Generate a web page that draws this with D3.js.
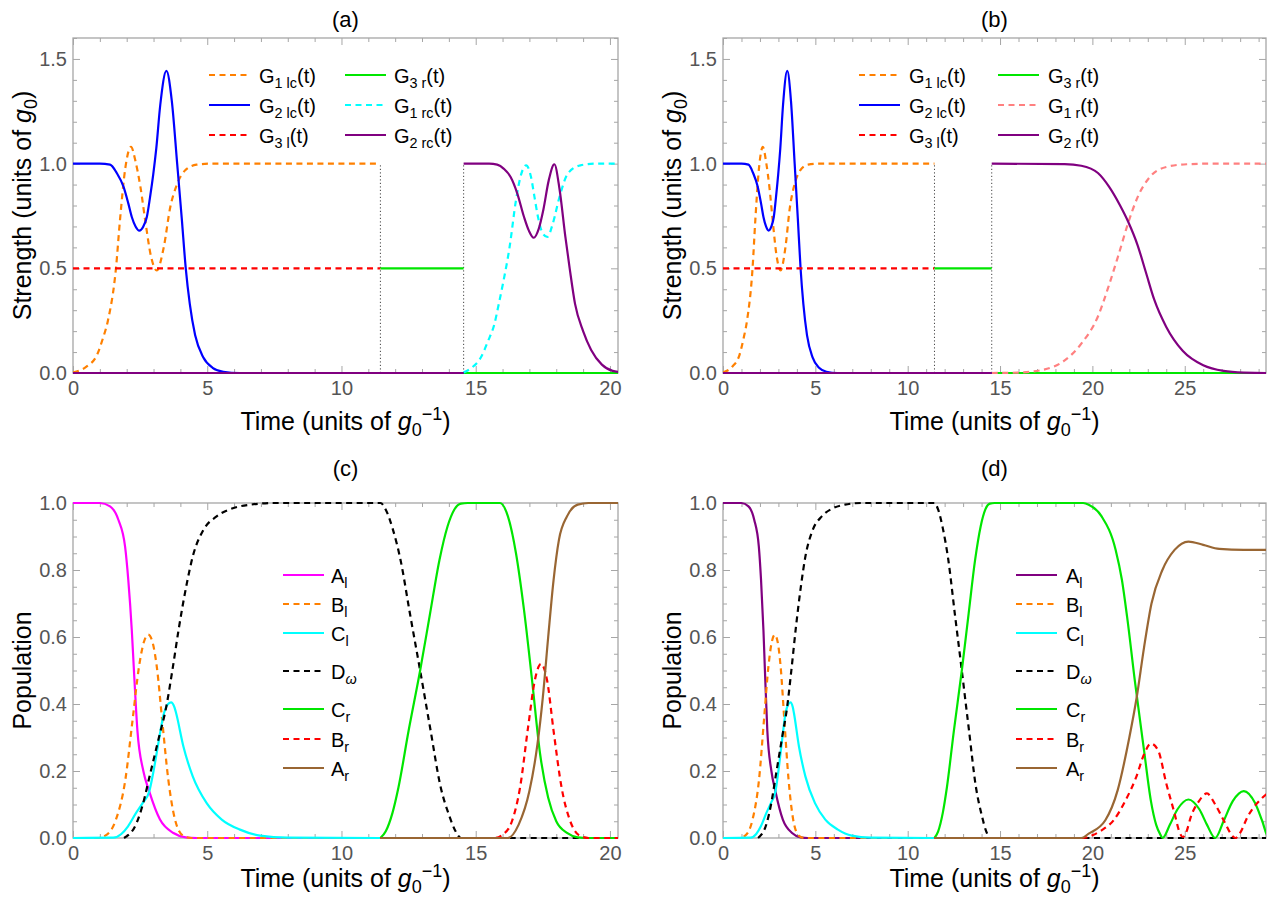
<!DOCTYPE html>
<html>
<head>
<meta charset="utf-8">
<script src="https://cdn.jsdelivr.net/npm/d3@7"></script>
<style>
  body { margin: 0; background: #fff; }
  text { font-family: "Liberation Sans", Arial, sans-serif; }
</style>
</head>
<body>
<div id="chart"></div>
<script>
// ---- data: [time, value] ----
var xTicksShort = [0, 5, 10, 15, 20];
var xTicksLong = [0, 5, 10, 15, 20, 25];
var yTicksStrength = [0, 0.5, 1.0, 1.5];
var yLabelsStrength = ["0.0", "0.5", "1.0", "1.5"];
var yTicksPop = [0, 0.2, 0.4, 0.6, 0.8, 1.0];
var yLabelsPop = ["0.0", "0.2", "0.4", "0.6", "0.8", "1.0"];
var switchTimes = [11.45, 14.55];

// strengths (a), (b)
var g1lc = [[0,0.003],[0.5,0.03],[0.9,0.088],[1.1,0.16],[1.3,0.25],[1.6,0.5],[1.75,0.73],[1.95,0.98],[2.16,1.08],[2.33,1.01],[2.51,0.89],[2.7,0.72],[2.9,0.56],[3.12,0.49],[3.38,0.6],[3.62,0.79],[3.87,0.9],[4.18,0.968],[4.6,0.995],[5.2,1],[11.45,1]];
var g2lc = [[0,1],[1.0,1],[1.38,0.995],[1.63,0.955],[1.88,0.89],[2.06,0.81],[2.19,0.745],[2.33,0.70],[2.47,0.68],[2.62,0.70],[2.75,0.745],[2.87,0.84],[2.99,0.95],[3.1,1.07],[3.25,1.28],[3.48,1.443],[3.68,1.3],[3.88,1.0],[4.05,0.74],[4.2,0.5],[4.35,0.33],[4.55,0.18],[4.85,0.075],[5.2,0.025],[5.6,0.006],[6.2,0],[30,0]];
var g3l = [[0,0.5],[11.45,0.5]];
var g3r = [[11.45,0.5],[14.55,0.5]];
var g3rOff = [[14.55,0],[30,0]];
var g1rc = [[14.55,0.003],[14.85,0.025],[15.2,0.076],[15.45,0.15],[15.7,0.236],[15.86,0.33],[16.02,0.43],[16.26,0.6],[16.5,0.825],[16.7,0.952],[16.88,0.992],[17.06,0.936],[17.19,0.84],[17.32,0.745],[17.5,0.666],[17.67,0.65],[17.87,0.713],[18.12,0.84],[18.43,0.952],[18.9,0.992],[19.5,1.0],[30,1.0]];
var g2rcOff = [[0,0],[14.55,0]];
var g2rc = [[14.55,1],[15.5,1],[15.8,0.995],[16.05,0.975],[16.3,0.936],[16.55,0.857],[16.8,0.745],[16.98,0.68],[17.16,0.646],[17.35,0.69],[17.52,0.78],[17.72,0.92],[17.93,0.997],[18.12,0.88],[18.34,0.65],[18.5,0.5],[18.7,0.33],[19.0,0.2],[19.3,0.11],[19.7,0.04],[20.1,0.01],[20.5,0.003]];
var g1r = [[14.55,0],[16.0,0.002],[17.2,0.013],[18.5,0.06],[19.4,0.14],[20.3,0.27],[20.9,0.42],[21.4,0.56],[21.95,0.72],[22.45,0.84],[23.1,0.935],[24.0,0.984],[25.1,0.997],[26.5,1],[30,1]];
var g2r = [[14.55,1],[18.5,0.998],[19.4,0.99],[20.3,0.955],[20.9,0.89],[21.5,0.8],[21.95,0.72],[22.45,0.61],[22.9,0.48],[23.35,0.35],[24.0,0.22],[24.9,0.105],[26.0,0.037],[27.1,0.01],[28.2,0.002],[29.5,0],[30,0]];

// populations (c), (d)
var aL = [[0,1],[1.0,1],[1.38,0.99],[1.69,0.95],[1.94,0.87],[2.06,0.77],[2.19,0.62],[2.27,0.5],[2.4,0.32],[2.62,0.2],[2.84,0.139],[3.24,0.055],[3.74,0.015],[4.2,0.002],[4.6,0],[11.45,0]];
var bL = [[0,0],[0.9,0],[1.2,0.007],[1.6,0.055],[1.95,0.174],[2.22,0.353],[2.46,0.512],[2.64,0.585],[2.8,0.607],[2.96,0.585],[3.12,0.512],[3.32,0.353],[3.55,0.174],[3.8,0.055],[4.1,0.007],[4.4,0],[11.45,0]];
var cL = [[0,0],[1.5,0.001],[1.8,0.012],[2.05,0.035],[2.35,0.075],[2.6,0.105],[2.84,0.139],[3.0,0.2],[3.16,0.274],[3.39,0.373],[3.52,0.398],[3.65,0.405],[3.78,0.39],[3.84,0.373],[4.11,0.274],[4.46,0.184],[4.98,0.104],[5.54,0.055],[6.22,0.025],[6.97,0.007],[8,0.001],[11.45,0]];
var dW = [[1.9,0],[2.37,0.045],[2.6,0.1],[2.87,0.19],[3.2,0.3],[3.47,0.39],[3.7,0.5],[3.95,0.63],[4.24,0.76],[4.46,0.84],[4.86,0.92],[5.35,0.96],[5.98,0.985],[6.6,0.995],[7.5,1],[11.45,1],[11.65,0.98],[11.9,0.925],[12.2,0.83],[12.55,0.67],[12.93,0.5],[13.3,0.33],[13.7,0.15],[14.0,0.07],[14.25,0.02],[14.45,0],[30,0]];
var cRup = [[11.45,0],[11.65,0.02],[11.9,0.075],[12.12,0.15],[12.5,0.32],[12.93,0.5],[13.3,0.67],[13.65,0.83],[13.95,0.93],[14.2,0.98],[14.45,0.998],[14.7,1]];
var cR = cRup.concat([[15.9,1],[16.2,0.96],[16.5,0.85],[16.8,0.68],[17.1,0.47],[17.4,0.25],[17.7,0.12],[18.0,0.05],[18.4,0.015],[18.8,0.002],[19.2,0],[30,0]]);
var bR = [[11.45,0],[15.7,0],[16.0,0.01],[16.35,0.05],[16.65,0.15],[16.95,0.33],[17.2,0.47],[17.43,0.52],[17.66,0.47],[17.9,0.32],[18.2,0.15],[18.5,0.055],[18.85,0.008],[19.2,0],[30,0]];
var aR = [[11.45,0],[16.2,0],[16.6,0.04],[17.0,0.14],[17.3,0.28],[17.5,0.42],[17.7,0.6],[17.9,0.77],[18.1,0.89],[18.4,0.96],[18.8,0.995],[19.2,1],[30,1]];
var cRd = cRup.concat([[19.5,1],[19.8,0.995],[20.5,0.96],[21.26,0.86],[21.6,0.77],[21.88,0.66],[22.32,0.46],[22.8,0.26],[23.17,0.11],[23.45,0.04],[23.68,0.01],[23.8,0],[24.2,0.04],[24.6,0.085],[25.2,0.115],[25.8,0.085],[26.2,0.04],[26.65,0],[27.1,0.05],[27.6,0.11],[28.2,0.14],[28.8,0.105],[29.2,0.05],[29.5,0.005],[30,0]]);
var bRd = [[11.45,0],[19.5,0],[20.0,0.008],[20.5,0.023],[21.15,0.053],[21.8,0.113],[22.36,0.18],[22.8,0.25],[23.17,0.282],[23.57,0.26],[24.0,0.163],[24.45,0.073],[24.7,0.02],[24.9,0.003],[25.1,0.02],[25.33,0.063],[25.77,0.11],[26.2,0.133],[26.65,0.1],[27.2,0.043],[27.5,0.012],[27.75,0],[28.0,0.015],[28.4,0.063],[29.07,0.113],[29.5,0.133],[30,0.14]];
var aRd = [[11.45,0],[19.4,0],[19.8,0.013],[20.7,0.053],[21.37,0.143],[22.0,0.3],[22.4,0.42],[22.8,0.57],[23.2,0.7],[23.79,0.8],[24.45,0.86],[25.2,0.885],[26.0,0.875],[26.87,0.863],[28.2,0.86],[30,0.86]];

// legend labels: [main, subscript, tail, italicSub]
var legendA = [["G","1 lc","(t)"],["G","2 lc","(t)"],["G","3 l","(t)"],["G","3 r","(t)"],["G","1 rc","(t)"],["G","2 rc","(t)"]];
var legendB = [["G","1 lc","(t)"],["G","2 lc","(t)"],["G","3 l","(t)"],["G","3 r","(t)"],["G","1 r","(t)"],["G","2 r","(t)"]];
var legendPop = [["A","l",""],["B","l",""],["C","l",""],["D","\u03c9","",true],["C","r",""],["B","r",""],["A","r",""]];

function init() {
    var w = 1268, h = 900;
    var svg = d3.select("#chart").append("svg").attr("width", w).attr("height", h);

    var orange = "#ff8000", blue = "#0000ff", red = "#ff0000", green = "#00e600",
        cyan = "#00ffff", purple = "#800080", pink = "#ff8080", magenta = "#ff00ff",
        brown = "#996633";

    var strengthTitle = [{t:"Strength (units of "},{t:"g",it:true},{t:"0",sub:true},{t:")"}];
    var timeTitle = [{t:"Time (units of "},{t:"g",it:true},{t:"0",sub:true},{t:"\u22121",sup:true},{t:")"}];

    var panels = [
        {name:"(a)", left:73, right:618, top:38, bottom:373, xMax:20.3, yMax:1.6,
         xTicks:xTicksShort, yTicks:yTicksStrength, yLabels:yLabelsStrength, yMinor:0.1,
         yTitle:strengthTitle, dotted:true, titleY:27, xTitleY:430,
         series:[
            {segs:[g1lc], color:orange, dash:true},
            {segs:[g2lc], color:blue},
            {segs:[g3l], color:red, dash:true},
            {segs:[g3r, g3rOff], color:green},
            {segs:[g1rc], color:cyan, dash:true},
            {segs:[g2rcOff, g2rc], color:purple}],
         legend:{labels:legendA, cols:[[209,259],[345,394]], rows:[75,105,135]}},
        {name:"(b)", left:723, right:1266, top:38, bottom:373, xMax:29.4, yMax:1.6,
         xTicks:xTicksLong, yTicks:yTicksStrength, yLabels:yLabelsStrength, yMinor:0.1,
         yTitle:strengthTitle, dotted:true, titleY:27, xTitleY:430,
         series:[
            {segs:[g1lc], color:orange, dash:true},
            {segs:[g2lc], color:blue},
            {segs:[g3l], color:red, dash:true},
            {segs:[g3r, g3rOff], color:green},
            {segs:[g1r], color:pink, dash:true},
            {segs:[g2rcOff, g2r], color:purple}],
         legend:{labels:legendB, cols:[[859,909],[998,1048]], rows:[75,105,135]}},
        {name:"(c)", left:73, right:618, top:503, bottom:838, xMax:20.3, yMax:1.0,
         xTicks:xTicksShort, yTicks:yTicksPop, yLabels:yLabelsPop, yMinor:0.05,
         yTitle:[{t:"Population"}], dotted:false, titleY:476, xTitleY:887,
         series:[
            {segs:[aL], color:magenta},
            {segs:[bL], color:orange, dash:true},
            {segs:[cL], color:cyan},
            {segs:[dW], color:"#000", dash:true},
            {segs:[cR], color:green},
            {segs:[bR], color:red, dash:true},
            {segs:[aR], color:brown}],
         legend:{labels:legendPop, cols:[[283,331]], rows:[575,604,633,671,709,739,768]}},
        {name:"(d)", left:723, right:1266, top:503, bottom:838, xMax:29.4, yMax:1.0,
         xTicks:xTicksLong, yTicks:yTicksPop, yLabels:yLabelsPop, yMinor:0.05,
         yTitle:[{t:"Population"}], dotted:false, titleY:476, xTitleY:887,
         series:[
            {segs:[aL], color:purple},
            {segs:[bL], color:orange, dash:true},
            {segs:[cL], color:cyan},
            {segs:[dW], color:"#000", dash:true},
            {segs:[cRd], color:green},
            {segs:[bRd], color:red, dash:true},
            {segs:[aRd], color:brown}],
         legend:{labels:legendPop, cols:[[1016,1066]], rows:[575,604,633,671,709,739,768]}}
    ];

    // writes text made of pieces with sub/superscripts
    function rich(text, parts, size) {
        var shift = 0;
        parts.forEach(function(p) {
            var ts = text.append("tspan").text(p.t);
            var target = p.sub ? size * 0.25 : (p.sup ? -size * 0.4 : 0);
            ts.attr("dy", target - shift);
            shift = target;
            if (p.sub || p.sup) ts.attr("font-size", size * 0.72);
            if (p.it) ts.attr("font-style", "italic");
        });
    }

    panels.forEach(function(p, i) {
        var xScale = d3.scaleLinear().domain([0, p.xMax]).range([p.left, p.right]);
        var yScale = d3.scaleLinear().domain([0, p.yMax]).range([p.bottom, p.top]);
        var g = svg.append("g");

        var xMinor = d3.range(0, p.xMax, 1).filter(function(d) { return d % 5 !== 0; });
        var yMinor = d3.range(0, p.yMax + 1e-9, p.yMinor).filter(function(d) {
            return !p.yTicks.some(function(t) { return Math.abs(t - d) < 1e-6; });
        });

        function styleAxis(a) {
            a.select(".domain").remove();
            a.selectAll("line").attr("stroke", "#a6a6a6");
            a.selectAll("text").attr("font-size", "20px").attr("fill", "#555")
                .attr("font-family", "Liberation Sans, Arial, sans-serif");
        }

        // frame ticks on all four sides
        g.append("g").attr("transform", "translate(0," + p.bottom + ")")
            .call(d3.axisBottom(xScale).tickValues(p.xTicks).tickFormat(function(d) { return d; }).tickSize(-7).tickPadding(8))
            .call(styleAxis);
        g.append("g").attr("transform", "translate(0," + p.bottom + ")")
            .call(d3.axisBottom(xScale).tickValues(xMinor).tickFormat("").tickSize(-4)).call(styleAxis);
        g.append("g").attr("transform", "translate(0," + p.top + ")")
            .call(d3.axisTop(xScale).tickValues(p.xTicks).tickFormat("").tickSize(-7)).call(styleAxis);
        g.append("g").attr("transform", "translate(0," + p.top + ")")
            .call(d3.axisTop(xScale).tickValues(xMinor).tickFormat("").tickSize(-4)).call(styleAxis);
        g.append("g").attr("transform", "translate(" + p.left + ",0)")
            .call(d3.axisLeft(yScale).tickValues(p.yTicks).tickFormat(function(d, k) { return p.yLabels[k]; }).tickSize(-7).tickPadding(6))
            .call(styleAxis);
        g.append("g").attr("transform", "translate(" + p.left + ",0)")
            .call(d3.axisLeft(yScale).tickValues(yMinor).tickFormat("").tickSize(-4)).call(styleAxis);
        g.append("g").attr("transform", "translate(" + p.right + ",0)")
            .call(d3.axisRight(yScale).tickValues(p.yTicks).tickFormat("").tickSize(-7)).call(styleAxis);
        g.append("g").attr("transform", "translate(" + p.right + ",0)")
            .call(d3.axisRight(yScale).tickValues(yMinor).tickFormat("").tickSize(-4)).call(styleAxis);

        // frame
        g.append("rect").attr("x", p.left).attr("y", p.top)
            .attr("width", p.right - p.left).attr("height", p.bottom - p.top)
            .attr("fill", "none").attr("stroke", "#a6a6a6").attr("stroke-width", 1.3);

        var clipId = "clip" + i;
        svg.append("clipPath").attr("id", clipId).append("rect")
            .attr("x", p.left).attr("y", p.top - 3)
            .attr("width", p.right - p.left).attr("height", p.bottom - p.top + 6);
        var plot = g.append("g").attr("clip-path", "url(#" + clipId + ")");

        // dotted switching lines
        if (p.dotted) {
            switchTimes.forEach(function(t) {
                plot.append("line")
                    .attr("x1", xScale(t)).attr("x2", xScale(t))
                    .attr("y1", yScale(0)).attr("y2", yScale(1))
                    .attr("stroke", "#444").attr("stroke-width", 1)
                    .attr("stroke-dasharray", "1.2,2.3");
            });
        }

        var line = d3.line()
            .x(function(d) { return xScale(d[0]); })
            .y(function(d) { return yScale(d[1]); })
            .curve(d3.curveMonotoneX);

        p.series.forEach(function(s) {
            s.segs.forEach(function(seg) {
                plot.append("path").attr("d", line(seg))
                    .attr("fill", "none").attr("stroke", s.color)
                    .attr("stroke-width", 2.2)
                    .attr("stroke-dasharray", s.dash ? "6,4.5" : null);
            });
        });

        // legend
        var perCol = p.legend.rows.length;
        p.legend.labels.forEach(function(lab, k) {
            var col = p.legend.cols[Math.floor(k / perCol)];
            var ry = p.legend.rows[k % perCol];
            var s = p.series[k];
            g.append("line").attr("x1", col[0]).attr("x2", col[0] + 41)
                .attr("y1", ry).attr("y2", ry)
                .attr("stroke", s.color).attr("stroke-width", 2.2)
                .attr("stroke-dasharray", s.dash ? "6,4.5" : null);
            var txt = g.append("text").attr("x", col[1]).attr("y", ry + 7.5)
                .attr("font-size", "20px").attr("fill", "#000");
            var parts = [{t:lab[0]}, {t:lab[1], sub:true, it:!!lab[3]}];
            if (lab[2]) parts.push({t:lab[2]});
            rich(txt, parts, 20);
        });

        // titles
        g.append("text").attr("x", (p.left + p.right) / 2).attr("y", p.titleY)
            .attr("text-anchor", "middle").attr("font-size", "22px").text(p.name);
        var xt = g.append("text").attr("x", (p.left + p.right) / 2).attr("y", p.xTitleY)
            .attr("text-anchor", "middle").attr("font-size", "25px");
        rich(xt, timeTitle, 25);
        var yt = g.append("text")
            .attr("transform", "translate(" + (p.left - 42) + "," + ((p.top + p.bottom) / 2) + ") rotate(-90)")
            .attr("text-anchor", "middle").attr("font-size", "25px");
        rich(yt, p.yTitle, 25);
    });
}

window.onload = init;
</script>
</body>
</html>
